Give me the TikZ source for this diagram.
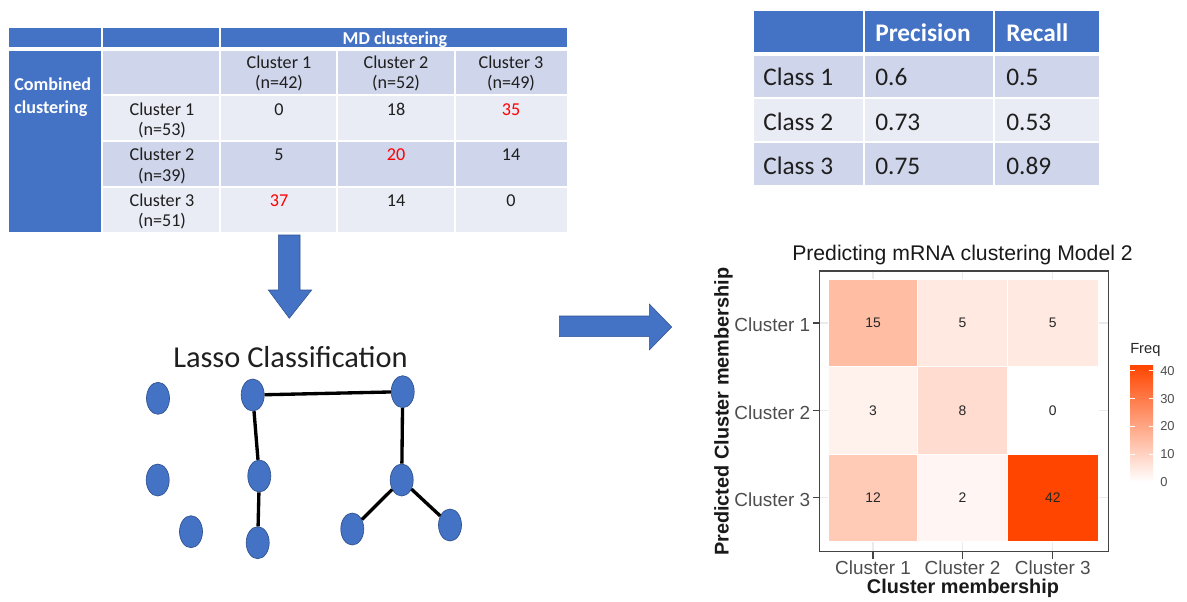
\documentclass[tikz,border=0pt]{standalone}
\usepackage{fontspec}
\setmainfont{Carlito}
\newfontfamily\plotfont{Liberation Sans}
\usetikzlibrary{shapes.geometric}
\definecolor{hdr}{HTML}{4472C4}
\definecolor{hdrline}{HTML}{2F528F}
\definecolor{band}{HTML}{CFD5EA}
\definecolor{pale}{HTML}{E9EBF5}
\definecolor{txt}{HTML}{1F1F1F}
\definecolor{hot}{HTML}{FF4500}
\definecolor{axistxt}{HTML}{4D4D4D}
\definecolor{gridc}{HTML}{EBEBEB}
\definecolor{frame}{HTML}{444444}
\begin{document}
\begin{tikzpicture}[x=0.75pt,y=-0.75pt,
  cellbox/.style={draw=white,line width=1.2pt},
  ltxt/.style={font=\fontsize{13.6}{16}\selectfont,text=txt,inner sep=0pt,anchor=base},
  lhead/.style={ltxt,text=white,font=\fontsize{13.6}{16}\selectfont\bfseries},
  rtxt/.style={font=\fontsize{19}{22}\selectfont,text=txt,inner sep=0pt,anchor=base west},
  rhead/.style={rtxt,text=white,font=\fontsize{19}{22}\selectfont\bfseries},
  blob/.style={ellipse,fill=hdr,draw=hdrline,line width=0.5pt,minimum width=17.25pt,minimum height=24pt,inner sep=0pt},
  link/.style={line width=2.5pt,black},
  blockarrow/.style={fill=hdr,draw=hdrline,line width=0.4pt},
  ticklab/.style={font=\plotfont\fontsize{14.2}{16}\selectfont,text=axistxt,inner sep=0pt,anchor=base},
  cnt/.style={font=\plotfont\fontsize{10.4}{12}\selectfont,text=black!85,inner sep=0pt},
  tile/.style={draw=white,line width=0.5pt},
  legtxt/.style={font=\plotfont\fontsize{9.7}{11}\selectfont,text=axistxt,inner sep=0pt,anchor=west}]
\useasboundingbox (0,0) rectangle (1187,601);

% ---------- cross-tabulation of the two clusterings ----------
\fill[hdr,cellbox] (8,27) rectangle (102,48);
\fill[hdr,cellbox] (102,27) rectangle (220,48);
\fill[hdr,cellbox] (220,27) rectangle (568,48);
\fill[hdr,cellbox] (8,50) rectangle (102,233);
\fill[band,cellbox] (102,50) rectangle (220,95);
\fill[band,cellbox] (220,50) rectangle (337,95);
\fill[band,cellbox] (337,50) rectangle (455,95);
\fill[band,cellbox] (455,50) rectangle (568,95);
\foreach \ya/\yb/\c in {95/141/pale,141/187/band,187/233/pale}{
  \fill[\c,cellbox] (102,\ya) rectangle (220,\yb);
  \fill[\c,cellbox] (220,\ya) rectangle (337,\yb);
  \fill[\c,cellbox] (337,\ya) rectangle (455,\yb);
  \fill[\c,cellbox] (455,\ya) rectangle (568,\yb);
}
\node[lhead] (mdh) at (395,44) {MD clustering};
\node[lhead,anchor=base west] (comb1) at (14,90) {Combined};
\node[lhead,anchor=base west] (comb2) at (14,113) {clustering};
\node[ltxt] (c1a) at (279,68) {Cluster 1};
\node[ltxt] (c1b) at (279,88.5) {(n=42)};
\node[ltxt] (c2a) at (396,68) {Cluster 2};
\node[ltxt] (c2b) at (396,88.5) {(n=52)};
\node[ltxt] (c3a) at (511,68) {Cluster 3};
\node[ltxt] (c3b) at (511,88.5) {(n=49)};
\node[ltxt] (r1a) at (162,115) {Cluster 1};
\node[ltxt] (r1b) at (162,135.5) {(n=53)};
\node[ltxt] (r2a) at (162,160.5) {Cluster 2};
\node[ltxt] (r2b) at (162,181) {(n=39)};
\node[ltxt] (r3a) at (162,206) {Cluster 3};
\node[ltxt] (r3b) at (162,226.5) {(n=51)};
\node[ltxt] (v11) at (279,115) {0};
\node[ltxt] (v12) at (396,115) {18};
\node[ltxt,text=red] (v13) at (511,115) {35};
\node[ltxt] (v21) at (279,160.5) {5};
\node[ltxt,text=red] (v22) at (396,160.5) {20};
\node[ltxt] (v23) at (511,160.5) {14};
\node[ltxt,text=red] (v31) at (279,206) {37};
\node[ltxt] (v32) at (396,206) {14};
\node[ltxt] (v33) at (511,206) {0};

% ---------- precision / recall table ----------
\fill[hdr,cellbox] (753,10) rectangle (864,53);
\fill[hdr,cellbox] (864,10) rectangle (994,53);
\fill[hdr,cellbox] (994,10) rectangle (1100,53);
\foreach \ya/\yb/\c in {55/98/band,98/142/pale,142/186/band}{
  \fill[\c,cellbox] (753,\ya) rectangle (864,\yb);
  \fill[\c,cellbox] (864,\ya) rectangle (994,\yb);
  \fill[\c,cellbox] (994,\ya) rectangle (1100,\yb);
}
\node[rhead] (prec) at (875,41) {Precision};
\node[rhead] (rec) at (1006,41) {Recall};
\node[rtxt] (k1) at (763,85.7) {Class 1};
\node[rtxt] (p1) at (875,85.7) {0.6};
\node[rtxt] (q1) at (1006,85.7) {0.5};
\node[rtxt] (k2) at (763,130) {Class 2};
\node[rtxt] (p2) at (875,130) {0.73};
\node[rtxt] (q2) at (1006,130) {0.53};
\node[rtxt] (k3) at (763,174) {Class 3};
\node[rtxt] (p3) at (875,174) {0.75};
\node[rtxt] (q3) at (1006,174) {0.89};

% ---------- block arrows ----------
\draw[blockarrow] (278.3,235) -- (300,235) -- (300,290) -- (311.7,290) -- (289.3,318.3)
  -- (268.3,290) -- (278.3,290) -- cycle;
\draw[blockarrow] (559.3,316) -- (649.3,316) -- (649.3,304) -- (671.7,327) -- (649.3,350)
  -- (649.3,336.7) -- (559.3,336.7) -- cycle;

% ---------- lasso network ----------
\node[font=\fontsize{22.8}{26}\selectfont,text=txt,inner sep=0pt,anchor=base] (lasso) at (290.5,367) {Lasso Classification};
\node[blob] (na) at (158,398.3) {};
\node[blob] (nb) at (157.7,480) {};
\node[blob] (nc) at (191,531.7) {};
\node[blob] (nd) at (252.7,395) {};
\node[blob] (ne) at (259.3,476) {};
\node[blob] (nf) at (257.7,542.7) {};
\node[blob] (ng) at (402.7,391.7) {};
\node[blob] (nh) at (401.7,480) {};
\node[blob] (ni) at (352.3,529) {};
\node[blob] (nj) at (450,525) {};
\draw[link] (nd) -- (ng);
\draw[link] (nd) -- (ne);
\draw[link] (ne) -- (nf);
\draw[link] (ng) -- (nh);
\draw[link] (nh) -- (ni);
\draw[link] (nh) -- (nj);

% ---------- confusion heatmap ----------
\node[font=\plotfont\fontsize{15.9}{18}\selectfont,text=black!90,inner sep=0pt,anchor=base] (title) at (962.5,260.7) {Predicting mRNA clustering Model 2};
\foreach \gx in {873,962.5,1052.8} \draw[gridc,line width=0.8pt] (\gx,271) -- (\gx,552);
\foreach \gy in {323,410.3,497.8} \draw[gridc,line width=0.8pt] (819,\gy) -- (1108,\gy);
% tiles: fill strength = count / 42
\fill[hot!35.7!white,tile] (828.3,279.3) rectangle (917.7,366.7);
\fill[hot!11.9!white,tile] (917.7,279.3) rectangle (1007.3,366.7);
\fill[hot!11.9!white,tile] (1007.3,279.3) rectangle (1098.3,366.7);
\fill[hot!7.1!white,tile] (828.3,366.7) rectangle (917.7,454);
\fill[hot!19!white,tile] (917.7,366.7) rectangle (1007.3,454);
\fill[white,tile] (1007.3,366.7) rectangle (1098.3,454);
\fill[hot!28.6!white,tile] (828.3,454) rectangle (917.7,541.7);
\fill[hot!4.8!white,tile] (917.7,454) rectangle (1007.3,541.7);
\fill[hot,tile] (1007.3,454) rectangle (1098.3,541.7);
\node[cnt] (t11) at (873,323) {15};
\node[cnt] (t12) at (962.5,323) {5};
\node[cnt] (t13) at (1052.8,323) {5};
\node[cnt] (t21) at (873,410.3) {3};
\node[cnt] (t22) at (962.5,410.3) {8};
\node[cnt] (t23) at (1052.8,410.3) {0};
\node[cnt] (t31) at (873,497.8) {12};
\node[cnt] (t32) at (962.5,497.8) {2};
\node[cnt] (t33) at (1052.8,497.8) {42};
\draw[frame,line width=1.1pt] (819.3,271) rectangle (1108.3,551.7);
\foreach \gy in {323,410.3,497.8} \draw[frame,line width=0.8pt] (812.5,\gy) -- (819.3,\gy);
\foreach \gx in {873,962.5,1052.8} \draw[frame,line width=0.8pt] (\gx,551.7) -- (\gx,558.5);
\node[ticklab,anchor=base east] (y1) at (810.5,331.7) {Cluster 1};
\node[ticklab,anchor=base east] (y2) at (810.5,419) {Cluster 2};
\node[ticklab,anchor=base east] (y3) at (810.5,506.5) {Cluster 3};
\node[ticklab] (x1) at (873,574) {Cluster 1};
\node[ticklab] (x2) at (962.5,574) {Cluster 2};
\node[ticklab] (x3) at (1052.8,574) {Cluster 3};
\node[font=\plotfont\bfseries\fontsize{14.9}{17}\selectfont,text=black!90,inner sep=0pt,anchor=base] (xt) at (963,593) {Cluster membership};
\node[font=\plotfont\bfseries\fontsize{14.9}{17}\selectfont,text=black!90,inner sep=0pt,anchor=base,rotate=90] (yt) at (728.5,411.7) {Predicted Cluster membership};
% colour bar
\node[font=\plotfont\fontsize{11}{13}\selectfont,text=black!85,inner sep=0pt,anchor=base west] (freq) at (1130,353.5) {Freq};
\shade[top color=hot,bottom color=white] (1130,365.2) rectangle (1153,482);
\foreach \v in {0,10,20,30,40}{
  \draw[white,line width=0.6pt] (1130,482-2.78*\v) -- (1134.5,482-2.78*\v);
  \draw[white,line width=0.6pt] (1148.5,482-2.78*\v) -- (1153,482-2.78*\v);
  \node[legtxt] at (1160,482-2.78*\v) {\v};
}
\end{tikzpicture}
\end{document}
